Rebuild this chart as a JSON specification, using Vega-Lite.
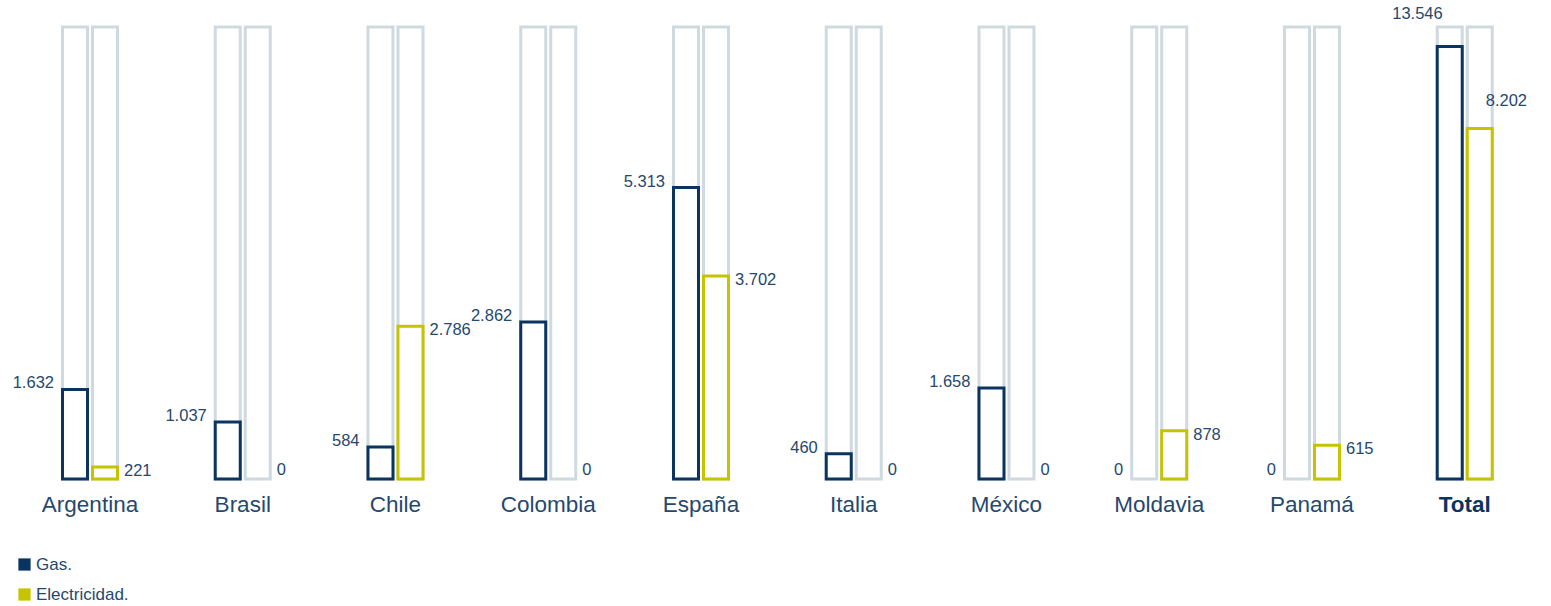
{
  "$schema": "https://vega.github.io/schema/vega-lite/v6.json",
  "autosize": {"type": "none"},
  "width": 1551,
  "height": 452,
  "padding": {"left": 0, "right": 0, "top": 27, "bottom": 127},
  "background": "white",
  "config": {
    "view": {"stroke": null},
    "font": "Liberation Sans",
    "locale": {"number": {"decimal": ",", "thousands": ".", "grouping": [3], "currency": ["", " €"]}},
    "legend": {
      "title": null,
      "orient": "none",
      "legendX": 16,
      "legendY": 529,
      "direction": "vertical",
      "symbolType": "square",
      "symbolSize": 150,
      "symbolStrokeWidth": 0,
      "symbolOpacity": 1,
      "labelFontSize": 17,
      "labelFont": "Liberation Sans",
      "labelColor": "#26486d",
      "labelOffset": 3,
      "rowPadding": 12,
      "padding": 0
    }
  },
  "data": {
    "values": [
      {"country": "Argentina", "serie": "Gas", "value": 1632},
      {"country": "Argentina", "serie": "Electricidad", "value": 221},
      {"country": "Brasil", "serie": "Gas", "value": 1037},
      {"country": "Brasil", "serie": "Electricidad", "value": 0},
      {"country": "Chile", "serie": "Gas", "value": 584},
      {"country": "Chile", "serie": "Electricidad", "value": 2786},
      {"country": "Colombia", "serie": "Gas", "value": 2862},
      {"country": "Colombia", "serie": "Electricidad", "value": 0},
      {"country": "España", "serie": "Gas", "value": 5313},
      {"country": "España", "serie": "Electricidad", "value": 3702},
      {"country": "Italia", "serie": "Gas", "value": 460},
      {"country": "Italia", "serie": "Electricidad", "value": 0},
      {"country": "México", "serie": "Gas", "value": 1658},
      {"country": "México", "serie": "Electricidad", "value": 0},
      {"country": "Moldavia", "serie": "Gas", "value": 0},
      {"country": "Moldavia", "serie": "Electricidad", "value": 878},
      {"country": "Panamá", "serie": "Gas", "value": 0},
      {"country": "Panamá", "serie": "Electricidad", "value": 615},
      {"country": "Total", "serie": "Gas", "value": 13546},
      {"country": "Total", "serie": "Electricidad", "value": 8202}
    ]
  },
  "encoding": {
    "x": {
      "field": "country",
      "type": "nominal",
      "scale": {
        "domain": ["Argentina", "Brasil", "Chile", "Colombia", "España", "Italia", "México", "Moldavia", "Panamá", "Total"],
        "paddingInner": 0.6072,
        "paddingOuter": 0.3806,
        "align": 0.516
      },
      "axis": {
        "title": null,
        "domain": false,
        "ticks": false,
        "tickSize": 0,
        "grid": false,
        "labelAngle": 0,
        "labelPadding": 14,
        "labelFontSize": 22.5,
        "labelFont": "Liberation Sans",
        "labelColor": {"condition": {"test": "datum.value === 'Total'", "value": "#0b3560"}, "value": "#26486d"},
        "labelFontWeight": {"condition": {"test": "datum.value === 'Total'", "value": "bold"}, "value": "normal"}
      }
    },
    "xOffset": {
      "field": "serie",
      "type": "nominal",
      "scale": {"domain": ["Gas", "Electricidad"], "paddingInner": 0.1667, "paddingOuter": 0.0833}
    }
  },
  "layer": [
    {
      "mark": {"type": "bar", "fill": "white", "stroke": "#cfd9e0", "strokeWidth": 3},
      "encoding": {
        "y": {"datum": 8240, "type": "quantitative", "scale": {"domain": [0, 8240], "nice": false}, "axis": null}
      }
    },
    {
      "transform": [{"filter": "datum.country !== 'Total' && datum.value > 0"}],
      "mark": {"type": "bar", "fill": "white", "strokeWidth": 3},
      "encoding": {
        "y": {"field": "value", "type": "quantitative", "scale": {"domain": [0, 8240], "nice": false}, "axis": null},
        "stroke": {
          "field": "serie",
          "type": "nominal",
          "scale": {"domain": ["Gas", "Electricidad"], "range": ["#0b3560", "#c6c300"]},
          "legend": {"labelExpr": "datum.label + '.'"}
        }
      }
    },
    {
      "transform": [{"filter": "datum.country === 'Total'"}],
      "mark": {"type": "bar", "fill": "white", "strokeWidth": 3},
      "encoding": {
        "y": {"field": "value", "type": "quantitative", "scale": {"type": "log", "domain": [961, 15270], "nice": false}, "axis": null},
        "y2": {"datum": 961},
        "stroke": {"field": "serie", "type": "nominal", "scale": {"domain": ["Gas", "Electricidad"], "range": ["#0b3560", "#c6c300"]}, "legend": {"labelExpr": "datum.label + '.'"}}
      }
    },
    {
      "transform": [{"filter": "datum.country === 'Total'"}],
      "mark": {"type": "point", "shape": "square", "filled": true, "size": 0},
      "encoding": {
        "y": {"datum": 0, "type": "quantitative", "scale": {"domain": [0, 8240], "nice": false}, "axis": null},
        "fill": {
          "field": "serie",
          "type": "nominal",
          "scale": {"domain": ["Gas", "Electricidad"], "range": ["#0b3560", "#c6c300"]},
          "legend": {"labelExpr": "datum.label + '.'"}
        }
      }
    },
    {
      "transform": [{"filter": "datum.country !== 'Total' && datum.serie === 'Gas' && datum.value > 0"}],
      "mark": {"type": "text", "align": "right", "baseline": "middle", "dx": -21, "dy": -6, "fontSize": 16.5, "color": "#26486d"},
      "encoding": {
        "y": {"field": "value", "type": "quantitative", "scale": {"domain": [0, 8240], "nice": false}, "axis": null},
        "text": {"field": "value", "type": "quantitative", "format": ",d"}
      }
    },
    {
      "transform": [{"filter": "datum.country !== 'Total' && datum.serie === 'Gas' && datum.value === 0"}],
      "mark": {"type": "text", "align": "right", "baseline": "middle", "dx": -21, "dy": -9.5, "fontSize": 16.5, "color": "#26486d"},
      "encoding": {
        "y": {"field": "value", "type": "quantitative", "scale": {"domain": [0, 8240], "nice": false}, "axis": null},
        "text": {"field": "value", "type": "quantitative", "format": ",d"}
      }
    },
    {
      "transform": [{"filter": "datum.country !== 'Total' && datum.serie === 'Electricidad' && datum.value > 0"}],
      "mark": {"type": "text", "align": "left", "baseline": "middle", "dx": 19, "dy": 4, "fontSize": 16.5, "color": "#26486d"},
      "encoding": {
        "y": {"field": "value", "type": "quantitative", "scale": {"domain": [0, 8240], "nice": false}, "axis": null},
        "text": {"field": "value", "type": "quantitative", "format": ",d"}
      }
    },
    {
      "transform": [{"filter": "datum.country !== 'Total' && datum.serie === 'Electricidad' && datum.value === 0"}],
      "mark": {"type": "text", "align": "left", "baseline": "middle", "dx": 19, "dy": -9.5, "fontSize": 16.5, "color": "#26486d"},
      "encoding": {
        "y": {"field": "value", "type": "quantitative", "scale": {"domain": [0, 8240], "nice": false}, "axis": null},
        "text": {"field": "value", "type": "quantitative", "format": ",d"}
      }
    },
    {
      "transform": [{"filter": "datum.country === 'Total' && datum.serie === 'Gas'"}],
      "mark": {"type": "text", "align": "right", "baseline": "middle", "dx": -7, "dy": -32.5, "fontSize": 16.5, "color": "#26486d"},
      "encoding": {
        "y": {"field": "value", "type": "quantitative", "scale": {"type": "log", "domain": [961, 15270], "nice": false}, "axis": null},
        "text": {"field": "value", "type": "quantitative", "format": ",d"}
      }
    },
    {
      "transform": [{"filter": "datum.country === 'Total' && datum.serie === 'Electricidad'"}],
      "mark": {"type": "text", "align": "left", "baseline": "middle", "dx": 6, "dy": -27.5, "fontSize": 16.5, "color": "#26486d"},
      "encoding": {
        "y": {"field": "value", "type": "quantitative", "scale": {"type": "log", "domain": [961, 15270], "nice": false}, "axis": null},
        "text": {"field": "value", "type": "quantitative", "format": ",d"}
      }
    }
  ],
  "resolve": {"scale": {"y": "independent"}}
}
